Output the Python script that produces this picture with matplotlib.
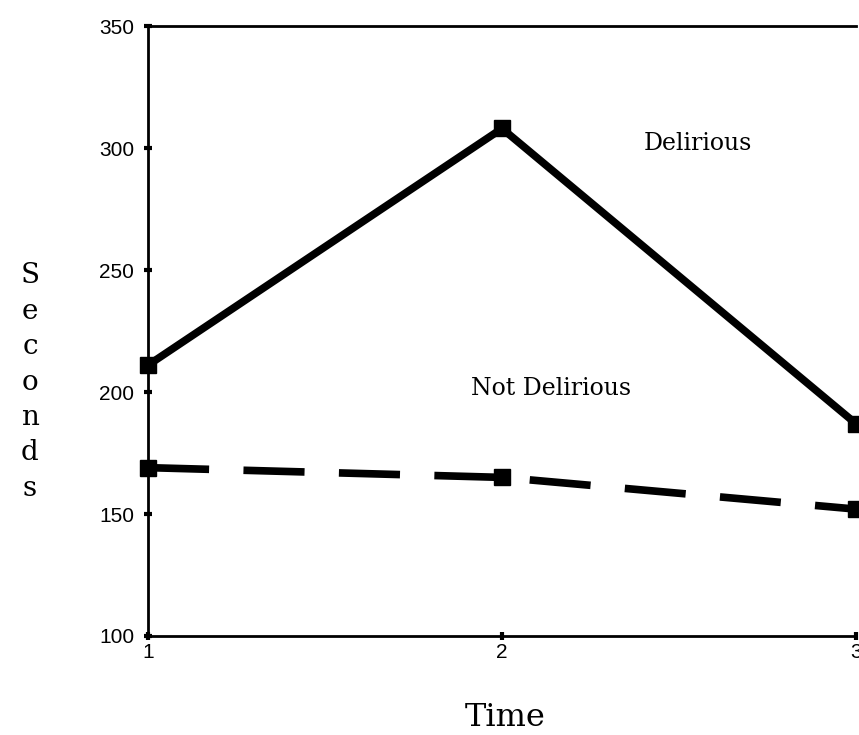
import numpy as np
import matplotlib.pyplot as plt

time = [1, 2, 3]
delirious = [211, 308, 187]
not_delirious = [169, 165, 152]
yticks = [100, 150, 200, 250, 300, 350]

fig = plt.figure(figsize=(8.59, 7.35), dpi=100)
ax = fig.add_axes([0.1723, 0.1347, 0.8242, 0.8299])

ax.plot(time, delirious, color='black', lw=5.5, marker='s', ms=12, clip_on=False)
ax.plot(time, not_delirious, color='black', lw=5.5, marker='s', ms=12,
        dashes=(8, 4.5), clip_on=False)

ax.set_xlim(1, 3)
ax.set_ylim(100, 350)
ax.set_xticks(time)
ax.set_yticks(yticks)
ax.spines['right'].set_visible(False)
for s in ['left', 'bottom', 'top']:
    ax.spines[s].set_linewidth(2)
ax.tick_params(direction='inout', length=6, width=3, labelsize=15)
ax.tick_params(axis='y', pad=7)
ax.tick_params(axis='x', pad=2)
for lab in ax.get_xticklabels() + ax.get_yticklabels():
    lab.set_family('Liberation Sans')

ax.text(2.554, 302, 'Delirious', ha='center', va='center',
        family='DejaVu Serif', fontsize=17)
ax.text(2.138, 201.6, 'Not Delirious', ha='center', va='center',
        family='DejaVu Serif', fontsize=17)

fig.text(30 / 859, 1 - 382 / 735, '\n'.join('Seconds'), ha='center', va='center',
         family='DejaVu Serif', fontsize=20, linespacing=1.4)
fig.text(505 / 859, 1 - 717 / 735, 'Time', ha='center', va='center',
         family='DejaVu Serif', fontsize=23)

fig.savefig('out.png', dpi=100)
